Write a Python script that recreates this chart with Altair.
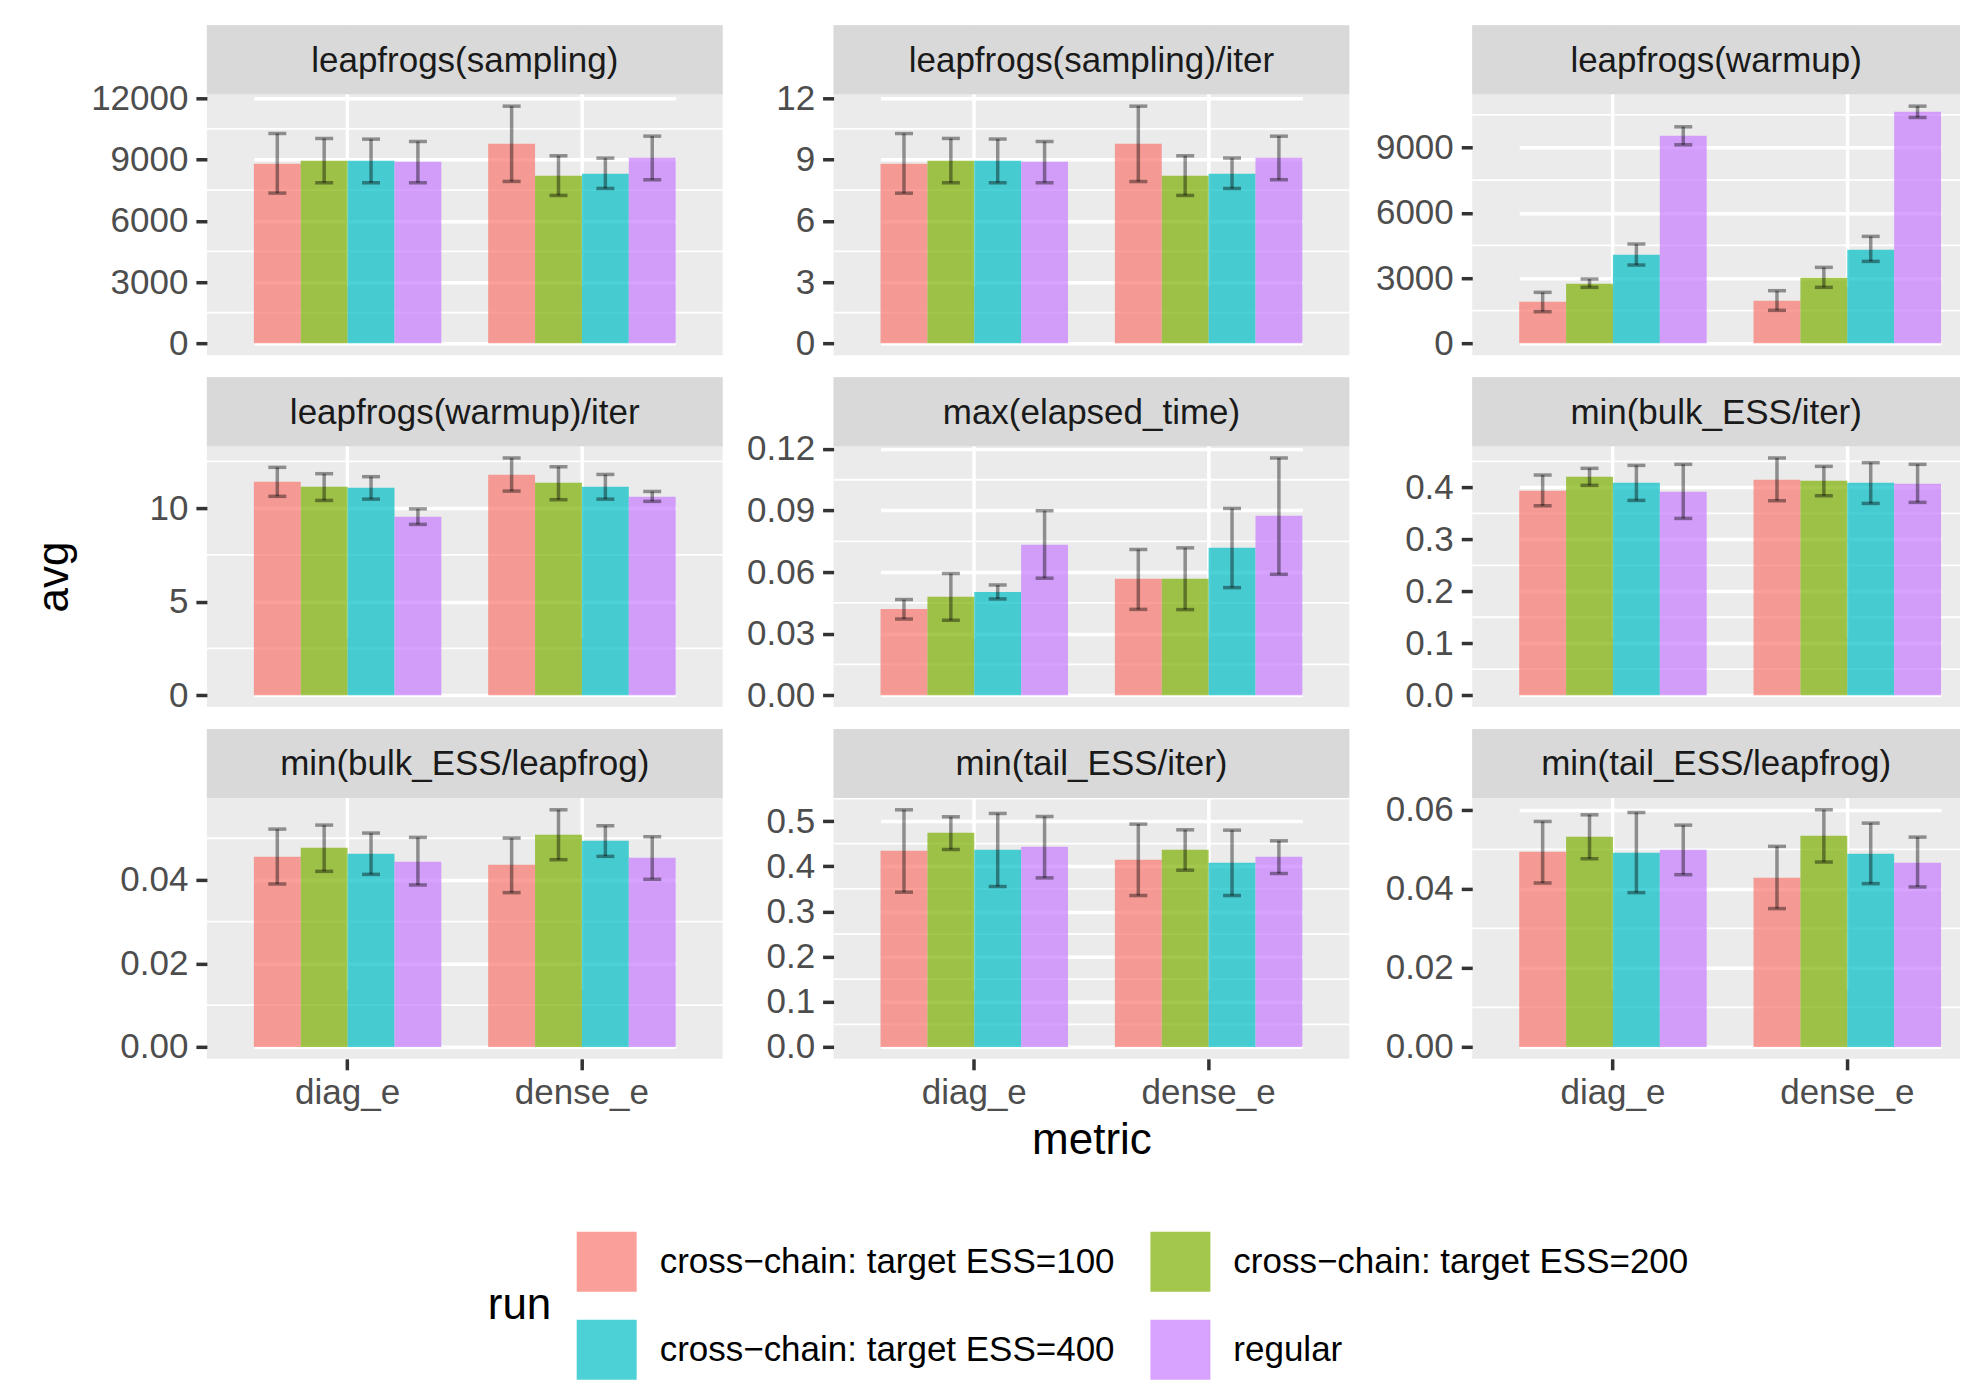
import altair as alt
import pandas as pd
import numpy as np

metrics = ["diag_e", "dense_e"]
runs = ["cross−chain: target ESS=100", "cross−chain: target ESS=200",
        "cross−chain: target ESS=400", "regular"]
run_colors = ["#F8766D", "#7CAE00", "#00BFC4", "#C77CFF"]

panel_names = ["leapfrogs(sampling)", "leapfrogs(sampling)/iter", "leapfrogs(warmup)",
               "leapfrogs(warmup)/iter", "max(elapsed_time)", "min(bulk_ESS/iter)",
               "min(bulk_ESS/leapfrog)", "min(tail_ESS/iter)", "min(tail_ESS/leapfrog)"]

# values ordered: diag_e (4 runs), dense_e (4 runs)
sampling_avg = [8790, 8935, 8935, 8886, 9766, 8201, 8299, 9082]
sampling_lo = [7353, 7859, 7859, 7859, 7924, 7239, 7582, 8005]
sampling_hi = [10272, 10027, 9995, 9880, 11609, 9179, 9065, 10141]

sampling_iter_avg = [8.79, 8.94, 8.94, 8.89, 9.77, 8.20, 8.30, 9.08]
sampling_iter_lo = [7.35, 7.86, 7.86, 7.86, 7.92, 7.24, 7.58, 8.01]
sampling_iter_hi = [10.27, 10.03, 10.00, 9.88, 11.61, 9.18, 9.07, 10.14]

warmup_avg = [1914, 2741, 4073, 9540, 1960, 3017, 4303, 10643]
warmup_lo = [1455, 2573, 3599, 9127, 1516, 2573, 3767, 10383]
warmup_hi = [2343, 2956, 4563, 9954, 2420, 3492, 4916, 10903]

warmup_iter_avg = [11.41, 11.14, 11.09, 9.54, 11.79, 11.36, 11.14, 10.61]
warmup_iter_lo = [10.63, 10.41, 10.48, 9.13, 10.91, 10.45, 10.48, 10.36]
warmup_iter_hi = [12.18, 11.84, 11.68, 9.96, 12.68, 12.21, 11.80, 10.89]

elapsed_avg = [0.0420, 0.0479, 0.0503, 0.0733, 0.0567, 0.0567, 0.0718, 0.0874]
elapsed_lo = [0.0371, 0.0365, 0.0469, 0.0570, 0.0418, 0.0417, 0.0524, 0.0589]
elapsed_hi = [0.0466, 0.0593, 0.0537, 0.0899, 0.0710, 0.0718, 0.0910, 0.1156]

bulk_iter_avg = [0.3936, 0.4206, 0.4090, 0.3916, 0.4148, 0.4129, 0.4090, 0.4071]
bulk_iter_lo = [0.3646, 0.4039, 0.3749, 0.3402, 0.3743, 0.3839, 0.3691, 0.3711]
bulk_iter_hi = [0.4238, 0.4367, 0.4424, 0.4444, 0.4566, 0.4405, 0.4476, 0.4444]

bulk_leap_avg = [0.04558, 0.04773, 0.04630, 0.04438, 0.04367, 0.05084, 0.04940, 0.04534]
bulk_leap_lo = [0.03904, 0.04207, 0.04135, 0.03880, 0.03697, 0.04486, 0.04566, 0.04016]
bulk_leap_hi = [0.05219, 0.05315, 0.05124, 0.05020, 0.05004, 0.05681, 0.05299, 0.05036]

tail_iter_avg = [0.4343, 0.4741, 0.4365, 0.4431, 0.4143, 0.4365, 0.4077, 0.4210]
tail_iter_lo = [0.3427, 0.4372, 0.3552, 0.3744, 0.3353, 0.3914, 0.3353, 0.3840]
tail_iter_hi = [0.5251, 0.5096, 0.5170, 0.5103, 0.4934, 0.4808, 0.4800, 0.4564]

tail_leap_avg = [0.04941, 0.05320, 0.04916, 0.04992, 0.04285, 0.05345, 0.04890, 0.04663]
tail_leap_lo = [0.04150, 0.04764, 0.03906, 0.04360, 0.03502, 0.04680, 0.04133, 0.04049]
tail_leap_hi = [0.05707, 0.05875, 0.05934, 0.05614, 0.05076, 0.06002, 0.05665, 0.05311]

panel_avgs = [sampling_avg, sampling_iter_avg, warmup_avg, warmup_iter_avg, elapsed_avg,
              bulk_iter_avg, bulk_leap_avg, tail_iter_avg, tail_leap_avg]
panel_los = [sampling_lo, sampling_iter_lo, warmup_lo, warmup_iter_lo, elapsed_lo,
             bulk_iter_lo, bulk_leap_lo, tail_iter_lo, tail_leap_lo]
panel_his = [sampling_hi, sampling_iter_hi, warmup_hi, warmup_iter_hi, elapsed_hi,
             bulk_iter_hi, bulk_leap_hi, tail_iter_hi, tail_leap_hi]

panel_ticks = [
    [0, 3000, 6000, 9000, 12000],
    [0, 3, 6, 9, 12],
    [0, 3000, 6000, 9000],
    [0, 5, 10],
    [0, 0.03, 0.06, 0.09, 0.12],
    [0, 0.1, 0.2, 0.3, 0.4],
    [0, 0.02, 0.04],
    [0, 0.1, 0.2, 0.3, 0.4, 0.5],
    [0, 0.02, 0.04, 0.06],
]
panel_formats = ["d", "d", "d", "d", ".2f", ".1f", ".2f", ".1f", ".2f"]

FONT = "Liberation Sans"
COL_W = [516, 516, 488]
COL_EXT = [118, 88, 100]
STRIP = 69
PLOT = 261
H = STRIP + PLOT
X_RANGE = [47, 469]
AXIS_GRAY = "#4D4D4D"
TICK_GRAY = "#333333"


def panel_frame(avg, lo, hi):
    recs = []
    for mi, m in enumerate(metrics):
        for ri, r in enumerate(runs):
            k = mi * 4 + ri
            recs.append({"metric": m, "run": r, "avg": avg[k], "lo": lo[k], "hi": hi[k]})
    return pd.DataFrame(recs)


def make_panel(i):
    row, col = divmod(i, 3)
    w = COL_W[col]
    df = panel_frame(panel_avgs[i], panel_los[i], panel_his[i])
    top = max(max(panel_his[i]), max(panel_avgs[i]))
    bot = 0.0
    span = top - bot
    dom = [bot - 0.05 * span, top + 0.05 * span]
    majors = panel_ticks[i]
    step = majors[1] - majors[0]
    minors = []
    v = (np.floor(dom[0] / step) + 0.5) * step
    while v <= dom[1]:
        if v >= dom[0]:
            minors.append(float(v))
        v += step
    minor_df = pd.DataFrame({"v": minors})

    yscale = alt.Scale(domain=dom, range=[H, STRIP], nice=False, zero=False)
    ykw = dict(values=majors, format=panel_formats[i], grid=True, gridColor="white",
               gridWidth=3.5, domain=False, tickSize=11, tickWidth=3.5, tickColor=TICK_GRAY,
               labelFontSize=35, labelColor=AXIS_GRAY, labelPadding=8, labelFont=FONT,
               minExtent=COL_EXT[col], maxExtent=COL_EXT[col])
    if col == 0:
        ykw.update(title="avg", titleFontSize=44, titleColor="black", titleFont=FONT,
                   titleFontWeight="normal", titlePadding=12,
                   titleOpacity=1 if row == 1 else 0)
    else:
        ykw.update(title=None)
    yaxis = alt.Axis(**ykw)

    def yenc(field):
        return alt.Y(field, type="quantitative", scale=yscale, axis=yaxis)

    if row == 2:
        xkw = dict(labels=True, ticks=True, labelFontSize=35, labelColor=AXIS_GRAY,
                   labelFont=FONT, tickSize=11, tickWidth=3.5, tickColor=TICK_GRAY,
                   labelPadding=6, labelAngle=0)
        if col == 1:
            xkw.update(title="metric", titleFontSize=44, titleColor="black",
                       titleFont=FONT, titleFontWeight="normal", titlePadding=8)
        else:
            xkw.update(title=None)
    else:
        xkw = dict(labels=False, ticks=False, title=None)
    xaxis = alt.Axis(grid=True, gridColor="white", gridWidth=3.5, domain=False,
                     bandPosition=0.5, **xkw)
    xenc = alt.X("metric:N", sort=metrics,
                 scale=alt.Scale(domain=metrics, range=X_RANGE, paddingInner=0.2,
                                 paddingOuter=0),
                 axis=xaxis)
    xoff = alt.XOffset("run:N", scale=alt.Scale(domain=runs, paddingInner=0, paddingOuter=0))

    minor = alt.Chart(minor_df).mark_rule(color="white", strokeWidth=1.8).encode(
        y=yenc("v"))

    bars = alt.Chart(df).mark_bar(opacity=0.7).encode(
        x=xenc, xOffset=xoff, y=yenc("avg"), y2=alt.datum(0),
        color=alt.Color("run:N", scale=alt.Scale(domain=runs, range=run_colors),
                        legend=alt.Legend(
                            title="run", orient="none", legendX=281, legendY=1207,
                            columns=2, direction="horizontal", titleOrient="left",
                            titleFontSize=44,
                            titleFont=FONT, titleFontWeight="normal", titleColor="black",
                            titlePadding=25, titleAnchor="middle", titleBaseline="middle",
                            labelFontSize=35, labelFont=FONT, labelColor="black",
                            labelLimit=1000, labelOffset=23, symbolType="square",
                            symbolSize=3600, symbolOpacity=0.7, symbolStrokeWidth=0,
                            columnPadding=35, rowPadding=28, padding=0)))

    err = alt.Chart(df).mark_rule(color="black", opacity=0.4, strokeWidth=3.5).encode(
        x=xenc, xOffset=xoff, y=yenc("lo"), y2="hi:Q")
    cap_lo = alt.Chart(df).mark_tick(color="black", opacity=0.4, thickness=3.5, size=18,
                                     orient="horizontal").encode(
        x=xenc, xOffset=xoff, y=yenc("lo"))
    cap_hi = alt.Chart(df).mark_tick(color="black", opacity=0.4, thickness=3.5, size=18,
                                     orient="horizontal").encode(
        x=xenc, xOffset=xoff, y=yenc("hi"))

    strip_df = pd.DataFrame({"label": [panel_names[i]]})
    strip_rect = alt.Chart(strip_df).mark_rect(color="#D9D9D9").encode(
        x=alt.value(0), x2=alt.value(w), y=alt.value(0), y2=alt.value(STRIP))
    strip_text = alt.Chart(strip_df).mark_text(
        fontSize=35, color="#1A1A1A", font=FONT, baseline="middle", align="center").encode(
        x=alt.value(w / 2), y=alt.value(STRIP / 2 + 1), text="label:N")

    return alt.layer(minor, bars, err, cap_lo, cap_hi, strip_rect, strip_text).properties(
        width=w, height=H)


cells = [make_panel(i) for i in range(9)]

chart = alt.concat(*cells, columns=3, spacing={"row": 15, "column": 22},
                   align="each").resolve_scale(
    x="independent", y="independent", xOffset="independent"
).properties(
    padding={"left": 25, "top": 17, "right": 0, "bottom": 0}
).configure(font=FONT).configure_view(fill="#EBEBEB", strokeWidth=0)

chart.save("out.html", embed_options={"renderer": "svg", "actions": False})
